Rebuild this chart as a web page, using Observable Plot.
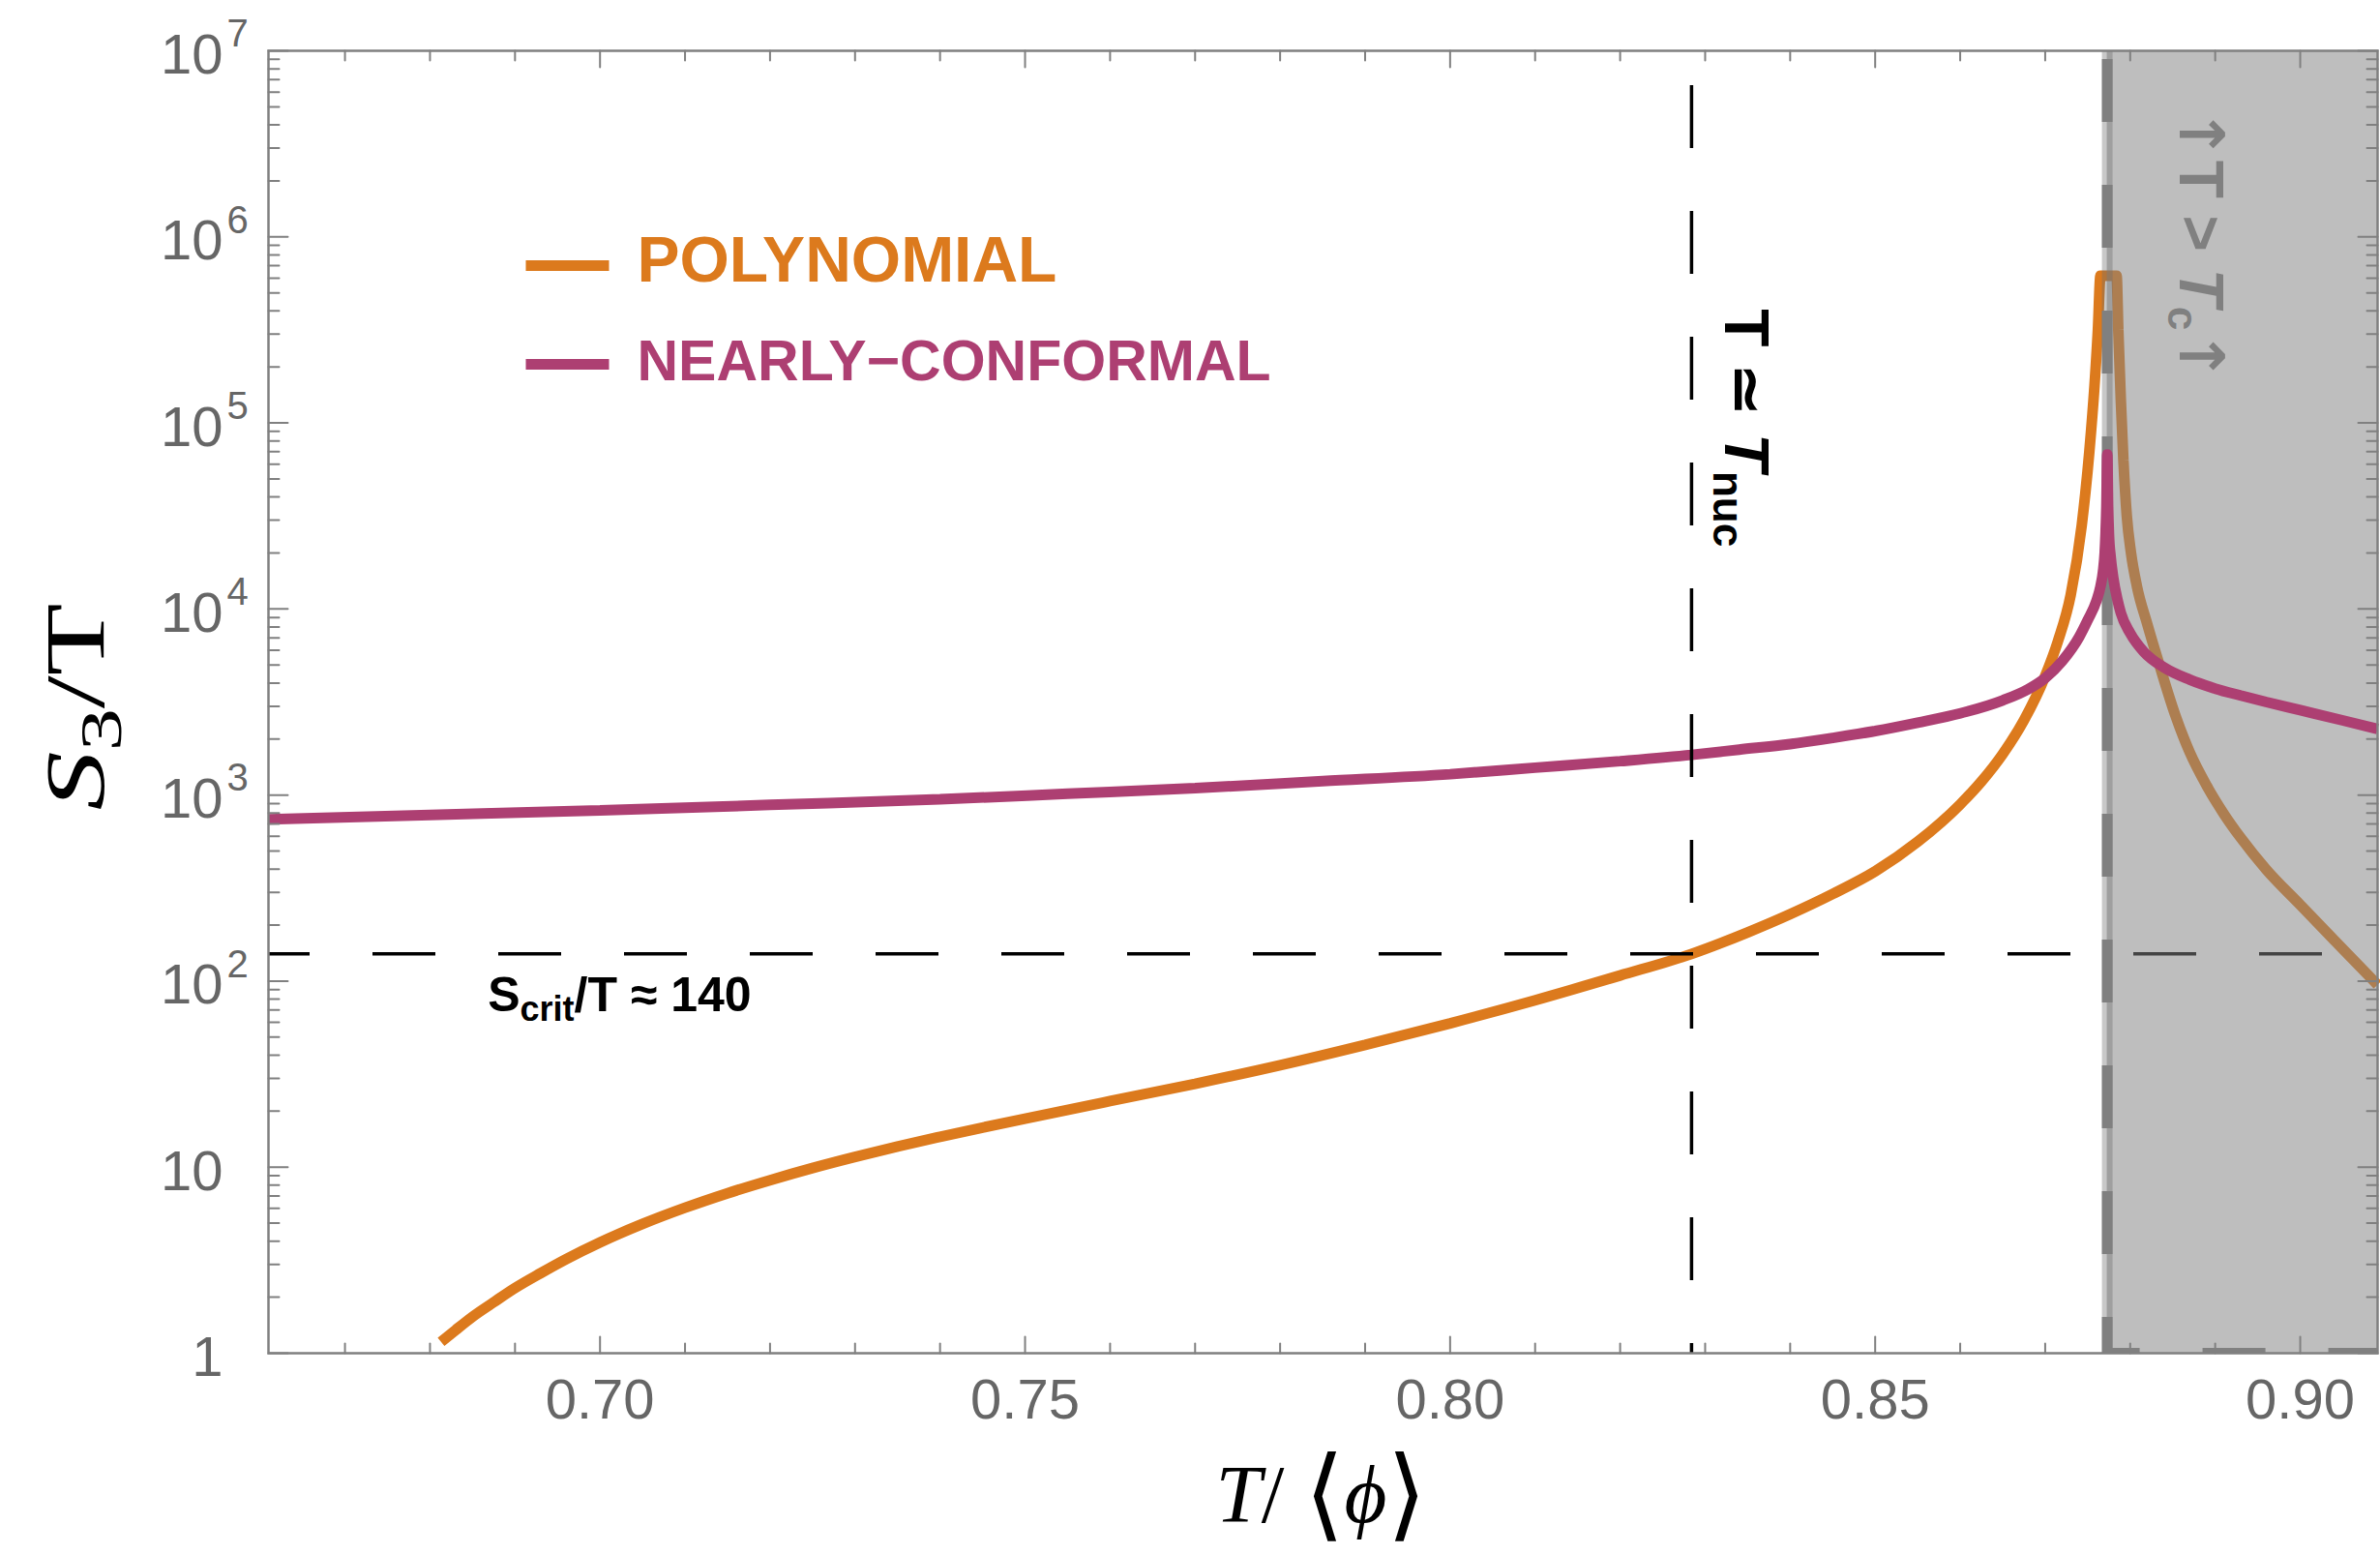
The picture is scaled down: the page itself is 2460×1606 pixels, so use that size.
<!DOCTYPE html>
<html>
<head>
<meta charset="utf-8">
<script src="https://cdn.jsdelivr.net/npm/d3@7"></script>
<script src="https://cdn.jsdelivr.net/npm/@observablehq/plot@0.6"></script>
<style>
html, body { margin: 0; padding: 0; background: #fff; }
#chart svg { display: block; }
</style>
</head>
<body>
<div id="chart"></div>
<script>
// ---------- data ----------
const polyT = [0.6813,0.6830,0.6850,0.6875,0.6900,0.6930,0.6960,0.7000,0.7050,0.7100,0.7150,0.7200,0.7250,0.7300,0.7350,0.7400,0.7450,0.7500,0.7600,0.7700,0.7800,0.7900,0.8000,0.8100,0.8200,0.8284,0.8350,0.8400,0.8450,0.8500,0.8550,0.8600,0.8625,0.8650,0.8675,0.8700,0.8715,0.8730,0.8743,0.8752,0.8758,0.8762,0.8765,0.8784,0.8786,0.8789,0.8792,0.8796,0.8801,0.8808,0.8820,0.8835,0.8853,0.8870,0.8890,0.8910,0.8930,0.8960,0.9000,0.9040,0.9091];
const polyS = [1.15,1.33,1.57,1.88,2.24,2.69,3.20,3.94,4.95,6.05,7.24,8.51,9.89,11.35,12.91,14.55,16.33,18.24,22.65,28.05,35.3,45.4,59.3,78.9,107.2,140,182.8,229,294,389,561,891,1183,1660,2523,4365,6714,11885,28184,70795,158489,316228,617000,617000,316228,131826,63096,31623,19953,13183,8318,4898,2692,1698,1122,794,589,398,257,166,95.5];

const confT = [0.661,0.680,0.700,0.720,0.740,0.755,0.770,0.785,0.800,0.810,0.820,0.8284,0.834,0.840,0.845,0.850,0.855,0.860,0.865,0.868,0.870,0.872,0.874,0.875,0.876,0.8765,0.8768,0.8770,0.8771,0.8772,0.8773,0.8774,0.8775,0.8777,0.8780,0.8785,0.8789,0.8800,0.8816,0.8840,0.8870,0.8900,0.8930,0.8960,0.9000,0.9050,0.9091];
const confS = [741,782,826,885,948,1016,1089,1187,1294,1403,1521,1644,1754,1879,2028,2208,2449,2748,3228,3707,4256,5248,7079,8710,10965,13183,15849,19953,25119,35481,67608,35481,25119,19055,14791,11220,9506,7413,5888,4842,4169,3733,3428,3162,2858,2518,2265];

const tNuc = 0.8284;      // T ≃ T_nuc
const tC = 0.8773;        // T_c
const sCrit = 140;        // S_crit/T

const seriesNames = ["POLYNOMIAL", "NEARLY−CONFORMAL"];
const seriesColors = ["#DC7A1D", "#AD3F72"];

const xTickMajor = [0.70, 0.75, 0.80, 0.85, 0.90];
const xTickMinor = [0.67,0.68,0.69,0.71,0.72,0.73,0.74,0.76,0.77,0.78,0.79,0.81,0.82,0.83,0.84,0.86,0.87,0.88,0.89];
const yTickMajor = [1, 10, 100, 1e3, 1e4, 1e5, 1e6, 1e7];
const yTickBase = ["1", "10", "10", "10", "10", "10", "10", "10"];
const yTickExp  = ["", "", "2", "3", "4", "5", "6", "7"];
const yMinorMult = [2, 3, 4, 5, 6, 7, 8, 9];

// annotation anchors (data units)
const critLabelX = 0.6868;
const nucLabelY = 4.1e5;
const tcLabelY = 4.9e6;

// ---------- layout ----------
const W = 2460, H = 1606;
const xDomain = [0.661, 0.9091];
const yDomain = [1, 1e7];

const poly = polyT.map((t, i) => ({t, s: polyS[i]}));
const conf = confT.map((t, i) => ({t, s: confS[i]}));
const yTickMinor = [];
for (const d of yTickMajor.slice(0, -1)) for (const m of yMinorMult) yTickMinor.push(d * m);

const tickShape = {draw(ctx, l) { ctx.moveTo(0, 0); ctx.lineTo(0, -l); }};
const hShape = {draw(ctx, l) { ctx.moveTo(0, 0); ctx.lineTo(l, 0); }};
const grey = "#808080";
const serif = "'Liberation Serif', 'DejaVu Serif', serif";

function ticks(data, channel, anchor, rotate, length) {
  const o = {frameAnchor: anchor, rotate, length, anchor: "start", shape: tickShape, stroke: grey, strokeWidth: 2};
  o[channel] = d => d;
  return Plot.vector(data, o);
}

const legendDy = [222, 324];
const legendTextDy = [217, 322];
const legendFont = [66, 59];

const plot = Plot.plot({
  width: W, height: H,
  marginLeft: 277, marginRight: 3, marginTop: 52, marginBottom: 208,
  style: {fontFamily: "'Liberation Sans', Arial, sans-serif", background: "#fff", overflow: "visible"},
  x: {domain: xDomain},
  y: {type: "log", domain: yDomain, axis: null},
  marks: [
    Plot.line(poly, {x: "t", y: "s", stroke: seriesColors[0], strokeWidth: 11, curve: "monotone-x", strokeLinejoin: "bevel", strokeLinecap: "butt"}),
    Plot.ruleY([sCrit], {stroke: "#000", strokeWidth: 3.5, strokeDasharray: "65,65", strokeDashoffset: 22}),
    Plot.rect([tC], {x1: d => d, x2: xDomain[1], y1: yDomain[0], y2: yDomain[1], fill: "#838383", fillOpacity: 0.52}),
    Plot.ruleX([tC], {stroke: "#6c6c6c", strokeOpacity: 0.375, strokeWidth: 11}),
    Plot.ruleX([tC], {stroke: grey, strokeWidth: 11, strokeDasharray: "65,65", strokeDashoffset: 121}),
    Plot.ruleY([yDomain[0]], {x1: tC, x2: xDomain[1], stroke: grey, strokeWidth: 11, strokeDasharray: "65,65", strokeDashoffset: 31, clip: true}),
    Plot.line(conf, {x: "t", y: "s", stroke: seriesColors[1], strokeWidth: 11, curve: "monotone-x", strokeLinejoin: "bevel", strokeLinecap: "butt"}),
    Plot.ruleX([tNuc], {stroke: "#000", strokeWidth: 3.5, strokeDasharray: "65,65", strokeDashoffset: 94}),
    Plot.frame({stroke: grey, strokeWidth: 2.5}),
    // ticks on all four sides, pointing inward
    ticks(xTickMajor, "x", "bottom", 0, 17),
    ticks(xTickMinor, "x", "bottom", 0, 10),
    ticks(xTickMajor, "x", "top", 180, 17),
    ticks(xTickMinor, "x", "top", 180, 10),
    ticks(yTickMajor, "y", "left", 90, 20),
    ticks(yTickMinor, "y", "left", 90, 11),
    ticks(yTickMajor, "y", "right", -90, 20),
    ticks(yTickMinor, "y", "right", -90, 11),
    // x tick labels
    Plot.axisX(xTickMajor, {tickSize: 0, tickPadding: 26, tickFormat: d3.format(".2f"), fontSize: 58, color: "#666", label: null}),
    // y tick labels (base + exponent)
    Plot.text(yTickMajor, {y: d => d, text: (d, i) => yTickBase[i], frameAnchor: "left", textAnchor: "end", lineAnchor: "middle", dx: -47, dy: 5, fontSize: 58, fill: "#666"}),
    Plot.text(yTickMajor, {y: d => d, text: (d, i) => yTickExp[i], frameAnchor: "left", textAnchor: "start", lineAnchor: "middle", dx: -43, dy: -17, fontSize: 40, fill: "#666"}),
    // axis labels
    Plot.text(["S3/T"], {text: d => d, frameAnchor: "left", dx: -198, dy: 5, rotate: -90, textAnchor: "middle", lineAnchor: "middle", fontSize: 86, fontFamily: serif, fill: "#000"}),
    Plot.text(["T/ ⟨ϕ⟩"], {text: d => d, frameAnchor: "bottom", dx: -2, dy: 148, textAnchor: "middle", lineAnchor: "middle", fontSize: 84, fontFamily: serif, fill: "#000"}),
    // annotations
    Plot.text(["Scrit/T ≈ 140"], {x: critLabelX, y: sCrit, text: d => d, dy: 43, textAnchor: "start", lineAnchor: "middle", fontSize: 50, fontWeight: "bold", fill: "#000"}),
    Plot.text(["T ≃ Tnuc"], {x: tNuc, y: nucLabelY, text: d => d, dx: 55, rotate: 90, textAnchor: "start", lineAnchor: "middle", fontSize: 64, fontWeight: "bold", fill: "#000"}),
    Plot.text(["↑T > Tc↑"], {x: tC, y: tcLabelY, text: d => d, dx: 95, rotate: 90, textAnchor: "start", lineAnchor: "middle", fontSize: 64, fontWeight: "bold", fill: grey}),
    // legend
    ...seriesNames.map((name, i) => Plot.vector([name], {frameAnchor: "top-left", dx: 266, dy: legendDy[i], length: 86, anchor: "start", shape: hShape, stroke: seriesColors[i], strokeWidth: 11, strokeLinecap: "butt"})),
    ...seriesNames.map((name, i) => Plot.text([name], {text: d => d, frameAnchor: "top-left", dx: 381, dy: legendTextDy[i], textAnchor: "start", lineAnchor: "middle", fontSize: legendFont[i], fontWeight: "bold", fill: seriesColors[i]}))
  ]
});

// rich-text formatting (italics, sub/superscripts)
function rich(svg, plain, parts, textLength) {
  d3.select(svg).selectAll("text").filter(function () { return this.textContent === plain; }).each(function () {
    const t = d3.select(this);
    t.text(null);
    for (const p of parts) {
      const s = t.append("tspan").text(p.t);
      if (p.style) s.attr("font-style", p.style);
      if (p.size) s.attr("font-size", p.size);
      if (p.dy) s.attr("dy", p.dy);
      if (p.family) s.attr("font-family", p.family);
    }
    if (textLength) t.attr("textLength", textLength).attr("lengthAdjust", "spacingAndGlyphs");
  });
}
rich(plot, "S3/T", [{t: "S", style: "italic"}, {t: "3", size: 62, dy: 18}, {t: "/T", dy: -18}], 214);
rich(plot, "T/ ⟨ϕ⟩", [{t: "T", style: "italic"}, {t: "/ "}, {t: "⟨", size: 104, dy: 6}, {t: "ϕ", style: "italic", dy: -6}, {t: "⟩", size: 104, dy: 6}], 218);
rich(plot, "Scrit/T ≈ 140", [{t: "S"}, {t: "crit", size: 36, dy: 10}, {t: "/T ≈ 140", dy: -10}]);
rich(plot, "T ≃ Tnuc", [{t: "T ≃ "}, {t: "T", style: "italic"}, {t: "nuc", size: 44, dy: 12}]);
rich(plot, "↑T > Tc↑", [{t: "↑", family: "'DejaVu Sans'"}, {t: "T > "}, {t: "T", style: "italic"}, {t: "c", size: 44, dy: 12}, {t: "↑", dy: -12, family: "'DejaVu Sans'"}]);

document.getElementById("chart").append(plot);
</script>
</body>
</html>
